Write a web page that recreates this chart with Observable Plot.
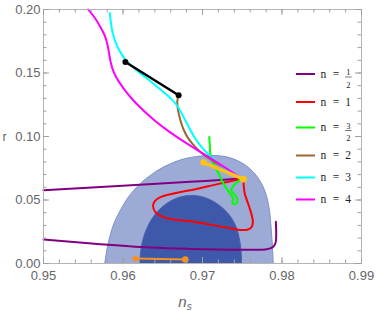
<!DOCTYPE html>
<html><head><meta charset="utf-8">
<script src="https://cdn.jsdelivr.net/npm/d3@7"></script>
<script src="https://cdn.jsdelivr.net/npm/@observablehq/plot@0.6"></script>
<style>body{margin:0;background:#fff}#chart{width:377px;height:311px}</style>
</head><body><div id="chart"></div>
<script>
// ---- Planck contours (outer = 2σ, inner = 1σ) ----
const outer_ns = [0.95770,0.95798,0.95842,0.95892,0.95967,0.96043,0.96134,0.96231,0.96344,0.96445,0.96554,0.96696,0.96847,0.97010,0.97161,0.97324,0.97496,0.97622,0.97701,0.97768,0.97808,0.97830,0.97846,0.97858,0.97873,0.97883,0.97889];
const outer_r  = [0,0.0120,0.0236,0.0333,0.0420,0.0506,0.0577,0.0640,0.0695,0.0739,0.0774,0.0813,0.0837,0.0849,0.0853,0.0841,0.0798,0.0735,0.0676,0.0603,0.0530,0.0467,0.0404,0.0325,0.0199,0.0105,0];
const inner_ns = [0.9621,0.9622,0.9625,0.9631,0.9641,0.9655,0.9672,0.9688,0.9703,0.9717,0.9729,0.9738,0.9744,0.9747,0.9749,0.9749];
const inner_r  = [0,0.010,0.020,0.030,0.040,0.048,0.053,0.054,0.0525,0.048,0.042,0.035,0.027,0.018,0.008,0];

// ---- n = 1/2 (two branches) ----
const nHalfA_ns = [0.95000,0.96847,0.97496];
const nHalfA_r  = [0.0577,0.0643,0.0669];
const nHalfB_ns = [0.95000,0.95716,0.96344,0.96847,0.97349,0.97663,0.97789,0.97852,0.97896,0.97921,0.97927,0.97923];
const nHalfB_r  = [0.0189,0.0152,0.0126,0.0115,0.0109,0.0108,0.0111,0.0119,0.0136,0.0168,0.0223,0.0328];
// ---- n = 1 ----
const n1_ns = [0.97496,0.97324,0.97136,0.96910,0.96746,0.96595,0.96470,0.96401,0.96378,0.96407,0.96508,0.96658,0.96847,0.97098,0.97349,0.97475,0.97563,0.97613,0.97634,0.97619,0.97601,0.97563,0.97531,0.97519,0.97513,0.97496];
const n1_r  = [0.0669,0.0644,0.0617,0.0585,0.0565,0.0546,0.0522,0.0491,0.0454,0.0404,0.0365,0.0345,0.0333,0.0306,0.0278,0.0264,0.0266,0.0282,0.0328,0.0380,0.0420,0.0491,0.0551,0.0609,0.0656,0.0669];
// ---- n = 3/2 ----
const n32_ns = [0.97085,0.97092,0.97098,0.97123,0.97161,0.97211,0.97261,0.97312,0.97362,0.97387,0.97374,0.97406,0.97437,0.97431,0.97387,0.97362,0.97387,0.97437,0.97496];
const n32_r  = [0.0997,0.0931,0.0869,0.0813,0.0758,0.0695,0.0632,0.0581,0.0538,0.0506,0.0479,0.0467,0.0483,0.0518,0.0554,0.0573,0.0609,0.0640,0.0669];
// ---- n = 2 ----
const n2_ns = [0.96700,0.96680,0.96683,0.96700,0.96727,0.96763,0.96809,0.96868,0.96935,0.97014,0.97119,0.97249,0.97374,0.97496];
const n2_r  = [0.1325,0.1286,0.1239,0.1181,0.1113,0.1050,0.0994,0.0945,0.0900,0.0853,0.0813,0.0758,0.0711,0.0669];
// ---- n = 3 ----
const n3_ns = [0.95833,0.95863,0.95926,0.95989,0.96030,0.96156,0.96281,0.96407,0.96533,0.96621,0.96683,0.96763,0.96847,0.96931,0.97057,0.97161,0.97249,0.97349,0.97496];
const n3_r  = [0.1973,0.1811,0.1706,0.1640,0.1601,0.1526,0.1467,0.1404,0.1337,0.1290,0.1246,0.1154,0.1050,0.0957,0.0866,0.0809,0.0762,0.0719,0.0669];
// ---- n = 4 ----
const n4_ns = [0.95562,0.95653,0.95716,0.95766,0.95800,0.95823,0.95842,0.95879,0.95942,0.96030,0.96131,0.96256,0.96407,0.96570,0.96746,0.96935,0.97136,0.97324,0.97496];
const n4_r  = [0.2000,0.1931,0.1863,0.1806,0.1743,0.1664,0.1585,0.1506,0.1435,0.1357,0.1282,0.1203,0.1120,0.1042,0.0967,0.0892,0.0817,0.0739,0.0669];
// ---- extra segments ----
const black_ns = [0.96030,0.96700];
const black_r  = [0.1587,0.1325];
const orange_ns = [0.96156,0.96784];
const orange_r  = [0.0039,0.0031];
const yellow_ns = [0.97014,0.97516];
const yellow_r  = [0.0795,0.0664];

// ---- legend / ticks ----
const legendNum = ["1","1","3","2","3","4"];
const legendDen = ["2","","2","","",""];
const legendColors = ["#800080","#ff0000","#00ff00","#996633","#00ffff","#ff00ff"];
const xTickLabels = [0.95,0.96,0.97,0.98,0.99];
const yTickLabels = [0.00,0.05,0.10,0.15,0.20];

const rows = (xs, ys, z) => xs.map((x, i) => ({x, y: ys[i], z}));
const curveSets = [
  [...rows(nHalfA_ns,nHalfA_r,"a"), ...rows(nHalfB_ns,nHalfB_r,"b")],
  rows(n1_ns,n1_r,"a"),
  rows(n32_ns,n32_r,"a"),
  rows(n2_ns,n2_r,"a"),
  rows(n3_ns,n3_r,"a"),
  rows(n4_ns,n4_r,"a")
];
const curveKinds = ["catmull-rom","catmull-rom","catmull-rom","basis","basis","basis"];

const W = 377, H = 311, mT = 9, mB = 48, mL = 43, mR = 16;
const iH = H - mT - mB, iW = W - mL - mR;
const xMinor = d3.range(0.95, 0.9901, 0.002);
const yMinor = d3.range(0, 0.2001, 0.01);
const tickC = "#a0a0a0";

const marks = [
  Plot.line(rows(outer_ns, outer_r), {x:"x", y:"y", fill:"#9caad6", stroke:"#7f91c9", strokeWidth:1, curve:"basis"}),
  Plot.line(rows(inner_ns, inner_r), {x:"x", y:"y", fill:"#3e59a9", stroke:"#4a63ad", strokeWidth:1, curve:"basis"}),
  ...curveSets.map((d, i) => Plot.line(d, {x:"x", y:"y", z:"z", stroke: legendColors[i], strokeWidth:2, curve: curveKinds[i]})),
  Plot.line(rows(black_ns, black_r), {x:"x", y:"y", stroke:"#000", strokeWidth:2.5}),
  Plot.dot(rows(black_ns, black_r), {x:"x", y:"y", fill:"#000", r:3}),
  Plot.line(rows(orange_ns, orange_r), {x:"x", y:"y", stroke:"#f7901e", strokeWidth:2}),
  Plot.dot(rows(orange_ns, orange_r), {x:"x", y:"y", fill:"#f7901e", r:(d,i)=> i === 0 ? 2.5 : 3.2}),
  Plot.line(rows(yellow_ns, yellow_r), {x:"x", y:"y", stroke:"#fcc21b", strokeWidth:3.5}),
  Plot.dot(rows(yellow_ns, yellow_r), {x:"x", y:"y", fill:"#fcc21b", r:3.3}),
  Plot.frame({stroke:"#b4b4b4"}),
  // inward ticks on all four sides
  Plot.ruleX(xTickLabels, {x:d=>d, insetTop: iH-6, stroke:tickC}),
  Plot.ruleX(xMinor, {x:d=>d, insetTop: iH-3.5, stroke:tickC}),
  Plot.ruleX(xTickLabels, {x:d=>d, insetBottom: iH-6, stroke:tickC}),
  Plot.ruleX(xMinor, {x:d=>d, insetBottom: iH-3.5, stroke:tickC}),
  Plot.ruleY(yTickLabels, {y:d=>d, insetRight: iW-6, stroke:tickC}),
  Plot.ruleY(yMinor, {y:d=>d, insetRight: iW-3.5, stroke:tickC}),
  Plot.ruleY(yTickLabels, {y:d=>d, insetLeft: iW-6, stroke:tickC}),
  Plot.ruleY(yMinor, {y:d=>d, insetLeft: iW-3.5, stroke:tickC}),
  Plot.axisX(xTickLabels, {anchor:"bottom", tickSize:0, tickPadding:7.5, tickFormat:d3.format(".2f"), fill:"#666", fontSize:13}),
  Plot.axisY(yTickLabels, {anchor:"left", tickSize:0, tickPadding:3, tickFormat:d3.format(".2f"), fill:"#666", fontSize:13}),
  Plot.text(["r"], {frameAnchor:"left", dx:-39, text:d=>d, fill:"#666", fontSize:12.5, textAnchor:"middle"})
];

const svg = Plot.plot({
  width: W, height: H,
  marginTop: mT, marginBottom: mB, marginLeft: mL, marginRight: mR,
  x: {domain:[0.95,0.99], axis:null, label:null},
  y: {domain:[0,0.2], axis:null, label:null},
  style: {fontFamily:"'Liberation Sans', Arial, sans-serif", background:"#fff", color:"#666"},
  marks
});

const s = d3.select(svg);
// x-axis title n_s
const t = s.append("text").attr("x", 185).attr("y", 306.5)
  .attr("font-family","'Liberation Sans', Arial, sans-serif").attr("font-style","italic")
  .attr("font-size",15).attr("fill","#666");
t.append("tspan").text("n");
t.append("tspan").attr("font-size",10).attr("dy",3).text("s");

// legend
const legendY = [74, 102, 127.5, 155.5, 177.5, 199.5];
const lg = s.append("g").attr("font-family","'Liberation Serif','DejaVu Serif',serif").attr("fill","#222");
legendY.forEach((y, i) => {
  lg.append("line").attr("x1",296).attr("x2",315).attr("y1",y).attr("y2",y)
    .attr("stroke",legendColors[i]).attr("stroke-width",2);
  lg.append("text").attr("x",323.3).attr("y",y+3.7).attr("font-size",11.5).text("n");
  lg.append("text").attr("x",336).attr("y",y+3.7).attr("font-size",11.5).attr("text-anchor","middle").text("=");
  if (legendDen[i]) {
    lg.append("text").attr("x",348.3).attr("y",y+1).attr("font-size",8.5).attr("text-anchor","middle").text(legendNum[i]);
    lg.append("line").attr("x1",345).attr("x2",351.7).attr("y1",y+3).attr("y2",y+3).attr("stroke","#222").attr("stroke-width",0.6);
    lg.append("text").attr("x",348.3).attr("y",y+13.5).attr("font-size",8.5).attr("text-anchor","middle").text(legendDen[i]);
  } else {
    lg.append("text").attr("x",348).attr("y",y+3.7).attr("font-size",11.5).attr("text-anchor","middle").text(legendNum[i]);
  }
});

document.getElementById("chart").append(svg);
</script>
</body></html>
